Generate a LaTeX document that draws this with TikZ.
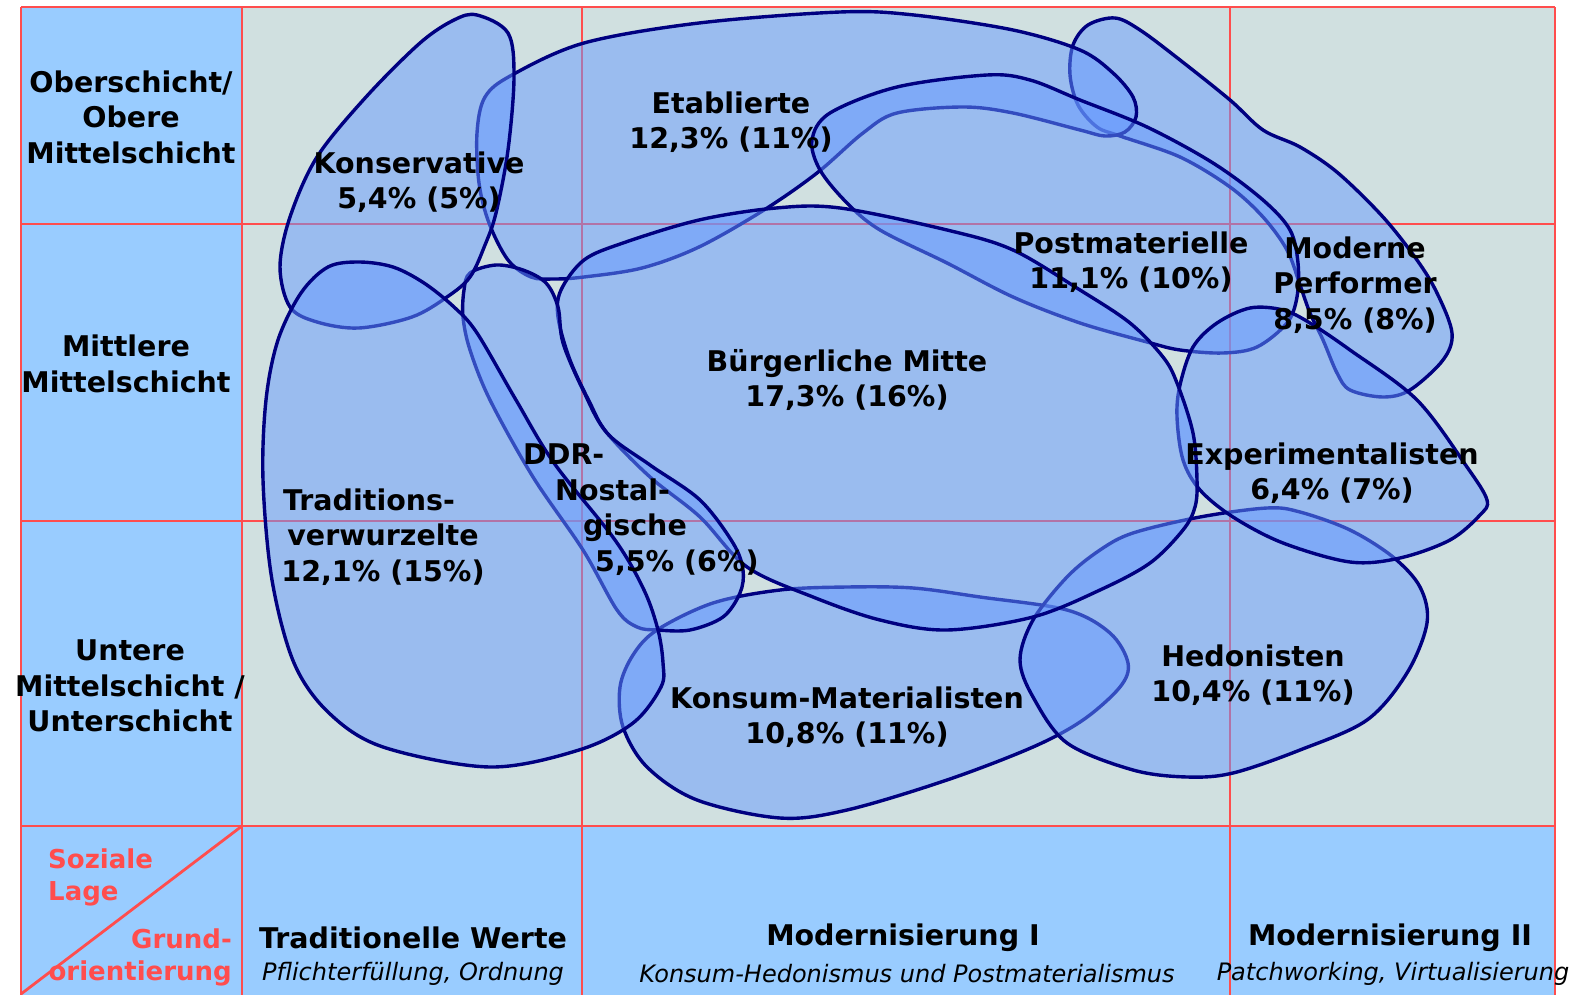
\documentclass[tikz,border=0pt]{standalone}
\usepackage{fontspec}
\setmainfont{DejaVu Sans}
\definecolor{navyline}{RGB}{0,0,128}
\definecolor{blobfill}{RGB}{102,153,255}
\definecolor{headblue}{RGB}{153,204,255}
\definecolor{cellgray}{RGB}{208,224,224}
\definecolor{gridred}{RGB}{255,77,77}
\tikzset{
  gridline/.style={draw=gridred, line width=2.8pt},
  blob/.style={draw=navyline, line width=3.4pt, fill=blobfill, fill opacity=0.5, draw opacity=1},
  lbl/.style={font=\bfseries\fontsize{28.5}{35.5}\selectfont, align=center, inner sep=0pt, text=black},
  sublbl/.style={font=\itshape\fontsize{24}{28}\selectfont, inner sep=0pt, text=black},
  redlbl/.style={font=\bfseries\fontsize{26}{32}\selectfont, inner sep=0pt, text=gridred},
}
\begin{document}
\begin{tikzpicture}[x=1pt,y=-1pt]
\useasboundingbox (0,0) rectangle (1581,995);
% backgrounds
\fill[cellgray] (242,7) rectangle (1555,826);
\fill[headblue] (21,7) rectangle (242,1000);
\fill[headblue] (242,826) rectangle (1555,1000);
% grid
\foreach \x in {21,242,582,1230,1555} \draw[gridline] (\x,7) -- (\x,1000);
\foreach \y in {7,224,521,826} \draw[gridline] (21,\y) -- (1555,\y);
\coordinate (dgA) at (21,994);
\coordinate (dgB) at (242,826);
\draw[gridline] (dgA) -- (dgB);

% blobs (order matters)
% Moderne Performer
\path[blob] plot[smooth cycle, tension=0.55] coordinates {
(1115,18) (1140,30) (1180,60) (1230,100) (1263,130) (1300,147) (1338,173) (1383,217) (1417,260) (1437,293) (1452,333) (1443,360) (1410,390) (1383,397) (1350,390) (1337,373) (1323,340) (1310,313) (1300,285) (1287,250) (1263,217) (1230,187) (1180,157) (1120,136) (1097,127) (1078,105) (1070,75) (1073,45) (1088,25)};
% Etablierte
\path[blob] plot[smooth cycle, tension=0.55] coordinates {
(477,133) (485,97) (512,75) (584,43) (699,23) (840,12) (914,15) (1013,30) (1080,50) (1113,73) (1133,97) (1136,117) (1125,132) (1105,136) (1080,130) (1013,113) (963,107) (897,113) (863,133) (817,173) (764,210) (699,247) (642,268) (584,277) (554,279) (531,277) (508,260) (489,223) (479,183)};
% Postmaterielle
\path[blob] plot[smooth cycle, tension=0.55] coordinates {
(812,140) (830,113) (897,87) (987,75) (1030,80) (1080,100) (1147,127) (1213,163) (1263,200) (1290,230) (1298,263) (1297,297) (1287,323) (1257,347) (1223,353) (1180,350) (1147,342) (1080,323) (1013,297) (947,263) (880,230) (847,203) (820,170)};
% Konsum-Materialisten
\path[blob] plot[smooth cycle, tension=0.55] coordinates {
(657,630) (713,603) (780,590) (847,587) (913,588) (980,597) (1067,610) (1110,633) (1128,663) (1120,687) (1083,720) (1033,747) (947,780) (847,810) (780,818) (697,800) (647,767) (623,727) (620,687) (633,655)};
% Hedonisten
\path[blob] plot[smooth cycle, tension=0.55] coordinates {
(1267,508) (1300,512) (1350,530) (1393,557) (1420,587) (1427,623) (1407,673) (1367,720) (1300,750) (1233,773) (1187,777) (1133,770) (1067,743) (1033,697) (1020,660) (1033,620) (1067,577) (1100,550) (1133,533) (1200,517)};
% Experimentalisten
\path[blob] plot[smooth cycle, tension=0.55] coordinates {
(1250,308) (1283,310) (1310,323) (1350,350) (1417,400) (1467,467) (1487,500) (1480,515) (1450,540) (1400,558) (1350,562) (1283,543) (1233,517) (1200,490) (1183,460) (1177,417) (1180,385) (1193,347) (1217,323)};
% Buergerliche Mitte
\path[blob] plot[smooth cycle, tension=0.55] coordinates {
(561,290) (584,260) (623,243) (699,220) (776,208) (840,208) (947,230) (1013,250) (1080,290) (1130,323) (1163,357) (1177,383) (1193,433) (1197,480) (1195,507) (1183,530) (1150,563) (1100,590) (1033,617) (947,630) (880,620) (813,597) (747,567) (700,517) (650,477) (607,433) (590,403) (570,360) (558,317)};
% DDR-Nostalgische
\path[blob] plot[smooth cycle, tension=0.55] coordinates {
(464,290) (470,273) (496,265) (523,270) (546,283) (558,307) (563,343) (583,390) (607,433) (650,465) (700,500) (733,543) (743,570) (740,593) (723,617) (690,630) (657,630) (637,627) (617,610) (583,550) (533,477) (490,400) (470,350) (463,317)};
% Konservative
\path[blob] plot[smooth cycle, tension=0.55] coordinates {
(477,15) (508,33) (514,77) (508,150) (496,213) (485,245) (470,277) (447,297) (412,317) (359,328) (317,322) (290,307) (280,267) (290,217) (317,157) (366,97) (420,43) (454,20)};
% Traditionsverwurzelte
\path[blob] plot[smooth cycle, tension=0.55] coordinates {
(359,262) (393,267) (424,283) (454,307) (477,333) (516,400) (554,463) (615,540) (644,590) (658,630) (663,663) (661,687) (633,723) (579,750) (490,767) (383,747) (329,713) (294,663) (272,580) (263,480) (266,400) (278,340) (301,293) (328,267)};

% row labels
\node[lbl] (row1) at (131,117) {Oberschicht/\\Obere\\Mittelschicht};
\node[lbl] (row2) at (126,364) {Mittlere\\Mittelschicht};
\node[lbl] (row3) at (130,686) {Untere\\Mittelschicht /\\Unterschicht};
% corner labels
\node[redlbl, align=left, anchor=north west] (soz) at (48,849) {Soziale\\Lage};
\node[redlbl, align=right, anchor=north east] (grund) at (232,929) {Grund-\\orientierung};
% column labels
\node[lbl] (col1) at (413,938) {Traditionelle Werte};
\node[sublbl] (col1s) at (413,974) {Pflichterfüllung, Ordnung};
\node[lbl] (col2) at (903,938) {Modernisierung I};
\node[sublbl] (col2s) at (907,974) {Konsum-Hedonismus und Postmaterialismus};
\node[lbl] (col3) at (1390,938) {Modernisierung II};
\node[sublbl] (col3s) at (1393,974) {Patchworking, Virtualisierung};

% milieu labels
\node[lbl] (kons) at (419,182) {Konservative\\5,4\% (5\%)};
\node[lbl] (etab) at (731,122) {Etablierte\\12,3\% (11\%)};
\node[lbl] (post) at (1131,262) {Postmaterielle\\11,1\% (10\%)};
\node[lbl] (mp) at (1355,285) {Moderne\\Performer\\8,5\% (8\%)};
\node[lbl] (bm) at (847,380) {Bürgerliche Mitte\\17,3\% (16\%)};
\node[lbl] (exp) at (1332,473) {Experimentalisten\\6,4\% (7\%)};
\node[lbl] (trad) at (383,537) {Traditions-\hspace*{28pt}\\verwurzelte\\12,1\% (15\%)};
\node[lbl, align=left, anchor=north west] (ddr) at (523,444) {DDR-\\\hspace*{32pt}Nostal-\\\hspace*{60pt}gische\\\hspace*{72pt}5,5\% (6\%)};
\node[lbl] (kmat) at (847,717) {Konsum-Materialisten\\10,8\% (11\%)};
\node[lbl] (hed) at (1253,675) {Hedonisten\\10,4\% (11\%)};
\end{tikzpicture}
\end{document}
